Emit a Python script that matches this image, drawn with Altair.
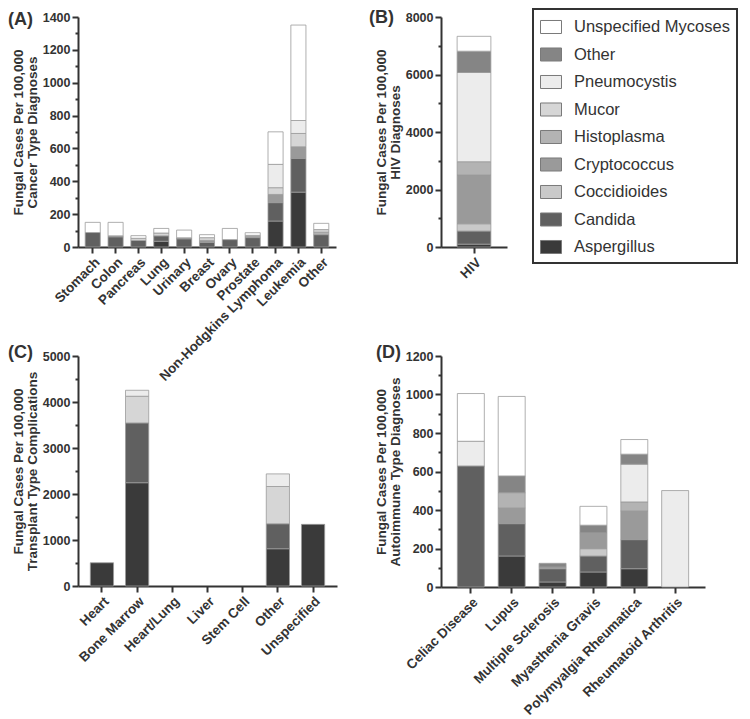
import altair as alt
import pandas as pd

FONT = "Liberation Sans"
INK = "#333333"

species = ["Aspergillus", "Candida", "Coccidioides", "Cryptococcus", "Histoplasma",
           "Mucor", "Pneumocystis", "Other", "Unspecified Mycoses"]
species_gray = ["#3a3a3a", "#606060", "#c9c9c9", "#9a9a9a", "#b3b3b3",
                "#d6d6d6", "#ececec", "#858585", "#ffffff"]

# Panel A: cancer
cancer_types = ["Stomach", "Colon", "Pancreas", "Lung", "Urinary", "Breast", "Ovary",
                "Prostate", "Non-Hodgkins Lymphoma", "Leukemia", "Other"]
cancer = {
    "Aspergillus":         [0, 0, 0, 35, 0, 0, 0, 0, 158, 334, 0],
    "Candida":             [88, 62, 40, 33, 50, 28, 45, 57, 112, 205, 75],
    "Coccidioides":        [0, 0, 0, 0, 0, 0, 0, 0, 0, 0, 0],
    "Cryptococcus":        [0, 6, 0, 0, 6, 12, 0, 8, 50, 71, 0],
    "Histoplasma":         [0, 0, 0, 0, 0, 0, 0, 0, 0, 0, 15],
    "Mucor":               [0, 0, 13, 17, 0, 17, 0, 6, 41, 81, 16],
    "Pneumocystis":        [0, 0, 0, 0, 0, 0, 0, 0, 142, 79, 0],
    "Other":               [0, 0, 0, 0, 0, 0, 0, 0, 0, 0, 0],
    "Unspecified Mycoses": [62, 82, 16, 28, 47, 18, 68, 16, 198, 581, 38],
}

# Panel B: HIV
hiv_types = ["HIV"]
hiv = {
    "Aspergillus": [100], "Candida": [454], "Coccidioides": [254], "Cryptococcus": [1696],
    "Histoplasma": [462], "Mucor": [0], "Pneumocystis": [3104], "Other": [740],
    "Unspecified Mycoses": [518],
}

# Panel C: transplant
transplant_types = ["Heart", "Bone Marrow", "Heart/Lung", "Liver", "Stem Cell", "Other", "Unspecified"]
transplant = {
    "Aspergillus":         [505, 2245, 0, 0, 0, 810, 1340],
    "Candida":             [0, 1300, 0, 0, 0, 543, 0],
    "Coccidioides":        [0, 0, 0, 0, 0, 0, 0],
    "Cryptococcus":        [0, 0, 0, 0, 0, 0, 0],
    "Histoplasma":         [0, 0, 0, 0, 0, 0, 0],
    "Mucor":               [0, 580, 0, 0, 0, 810, 0],
    "Pneumocystis":        [0, 130, 0, 0, 0, 274, 0],
    "Other":               [0, 0, 0, 0, 0, 0, 0],
    "Unspecified Mycoses": [0, 0, 0, 0, 0, 0, 0],
}

# Panel D: autoimmune
autoimmune_types = ["Celiac Disease", "Lupus", "Multiple Sclerosis", "Myasthenia Gravis",
                    "Polymyalgia Rheumatica", "Rheumatoid Arthritis"]
autoimmune = {
    "Aspergillus":         [0, 161, 26, 78, 95, 0],
    "Candida":             [629, 168, 69, 83, 151, 0],
    "Coccidioides":        [0, 0, 0, 38, 0, 0],
    "Cryptococcus":        [0, 82, 9, 82, 149, 0],
    "Histoplasma":         [0, 79, 0, 0, 47, 0],
    "Mucor":               [0, 0, 0, 0, 0, 0],
    "Pneumocystis":        [128, 0, 0, 0, 196, 501],
    "Other":               [0, 87, 19, 40, 52, 0],
    "Unspecified Mycoses": [248, 413, 0, 98, 76, 0],
}

legend_order = list(reversed(species))
legend_range = list(reversed(species_gray))

legend = alt.Legend(
    orient="none", legendX=455, legendY=-8, title=None,
    symbolType="M-1,-0.62H1V0.62H-1Z", symbolSize=441,
    symbolStrokeColor="#7a7a7a", symbolStrokeWidth=1, symbolOpacity=1,
    labelFont=FONT, labelFontSize=16.5, labelColor=INK, labelOffset=12,
    padding=7, rowPadding=7.5, strokeColor=INK,
)


def panel(cats, table, ymax, major, minor, w, h, title_lines, tag, tag_dx, tag_dy, p_outer):
    rows = []
    for k, sp in enumerate(species):
        for c, v in zip(cats, table[sp]):
            if v > 0:
                rows.append({"cat": c, "species": sp, "k": k, "value": v})
    df = pd.DataFrame(rows)
    xenc = alt.X("cat:N", title=None,
                 scale=alt.Scale(domain=cats, paddingInner=0.34, paddingOuter=p_outer),
                 axis=alt.Axis(labelAngle=-45, labelLimit=300, labelFontSize=13.5))
    yscale = alt.Scale(domain=[0, ymax], nice=False, zero=True)
    major_vals = list(range(0, ymax + 1, major))
    minor_vals = [v for v in range(0, ymax + 1, minor) if v % major != 0]
    bars = alt.Chart(df).mark_bar(stroke="#9a9a9a", strokeWidth=0.8).encode(
        x=xenc,
        y=alt.Y("value:Q", stack="zero", scale=yscale,
                axis=alt.Axis(values=major_vals, title=title_lines, orient="left", format="d")),
        color=alt.Color("species:N", scale=alt.Scale(domain=legend_order, range=legend_range),
                        legend=legend),
        order=alt.Order("k:Q", sort="ascending"),
    )
    minor_layer = alt.Chart(df).mark_bar(opacity=0).encode(
        x=xenc,
        y=alt.Y("value:Q", stack="zero", scale=yscale,
                axis=alt.Axis(values=minor_vals, labels=False, title=None, domain=False,
                              tickSize=3, orient="left")),
    )
    tag_layer = alt.Chart(pd.DataFrame({"t": [tag]})).mark_text(
        align="left", baseline="middle", font=FONT, fontSize=18, fontWeight="bold", color=INK
    ).encode(text="t:N", x=alt.value(tag_dx), y=alt.value(tag_dy))
    return alt.layer(bars, minor_layer, tag_layer).resolve_axis(y="independent").properties(
        width=w, height=h)


A = panel(cancer_types, cancer, 1400, 200, 100, 258, 230,
          ["Fungal Cases Per 100,000", "Cancer Type Diagnoses"], "(A)", -70, 3, 0.315)
B = panel(hiv_types, hiv, 8000, 2000, 1000, 66, 230,
          ["Fungal Cases Per 100,000", "HIV Diagnoses"], "(B)", -72, 1, 0.315)
C = panel(transplant_types, transplant, 5000, 1000, 500, 259, 230,
          ["Fungal Cases Per 100,000", "Transplant Type Complications"], "(C)", -70, -3, 0.35)
D = panel(autoimmune_types, autoimmune, 1200, 200, 100, 264, 231,
          ["Fungal Cases Per 100,000", "Autoimmune Type Diagnoses"], "(D)", -65, -3, 0.4)

chart = alt.concat(A, B, C, D, columns=2, spacing={"row": 109, "column": 104},
                   bounds="flush").properties(
    padding={"left": 0, "top": 0, "right": 0, "bottom": 0}
).configure_view(stroke=None).configure_axis(
    labelFont=FONT, labelFontSize=12.5, labelFontWeight="bold", labelColor=INK,
    titleFont=FONT, titleFontSize=13.5, titleFontWeight="bold", titleColor=INK,
    titleLineHeight=14, titlePadding=3, labelPadding=2,
    domainColor=INK, domainWidth=2, tickColor=INK, tickWidth=2, tickSize=6, grid=False,
).configure_legend(strokeWidth=2)

chart.save("out.html", embed_options={"renderer": "svg", "actions": False})
